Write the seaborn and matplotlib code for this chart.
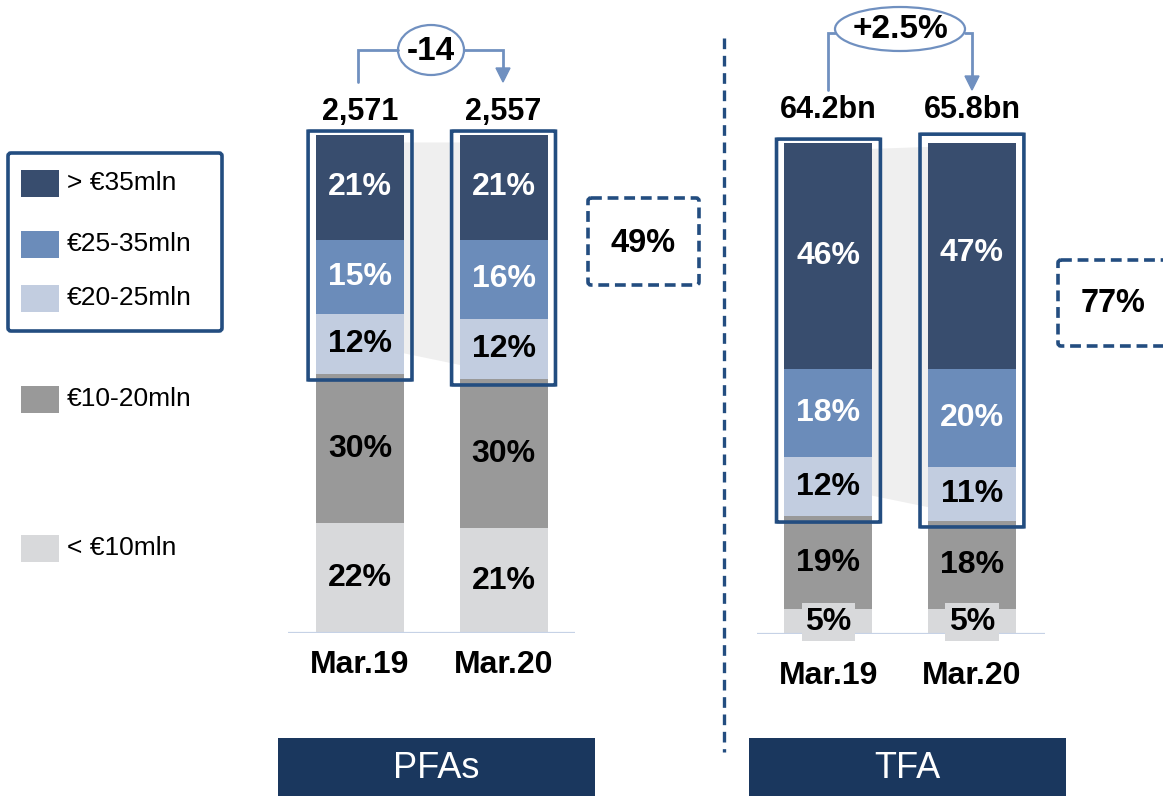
import numpy as np
import pandas as pd
import seaborn as sns
import matplotlib.pyplot as plt
from matplotlib.patches import FancyBboxPatch, Rectangle, Ellipse, Polygon

# ---- data ----
periods = ["Mar.19", "Mar.20"]
bands = ["> €35mln", "€25-35mln", "€20-25mln", "€10-20mln", "< €10mln"]
band_colors = ["#384d6e", "#6b8cba", "#c2cde0", "#999999", "#d8d9db"]
label_colors = ["white", "white", "black", "black", "black"]

# shares per band (top band first), one list per period
pfa_shares = {"Mar.19": [21, 15, 12, 30, 22], "Mar.20": [21, 16, 12, 30, 21]}
tfa_shares = {"Mar.19": [46, 18, 12, 19, 5], "Mar.20": [47, 20, 11, 18, 5]}

pfa_totals = ["2,571", "2,557"]
tfa_totals = ["64.2bn", "65.8bn"]
pfa_change = "-14"
tfa_change = "+2.5%"
pfa_large_share = "49%"
tfa_large_share = "77%"
panel_titles = ["PFAs", "TFA"]

NAVY = "#17375e"
OUTLINE = "#234d80"
ARROW = "#7090c0"
BAR_W = 0.613

sns.set_theme(style="white")
plt.rcParams["font.family"] = ["Liberation Sans", "DejaVu Sans"]

W, H = 1163, 796
fig = plt.figure(figsize=(W / 100, H / 100), dpi=100)

# overlay in pixel coordinates for the decorations
ov = fig.add_axes([0, 0, 1, 1], zorder=0)
ov.set_xlim(0, W)
ov.set_ylim(H, 0)
ov.axis("off")


def px_axes(x0, x1, ybase, ytop):
    ax = fig.add_axes([x0 / W, (H - ybase) / H, (x1 - x0) / W, (ybase - ytop) / H], zorder=2)
    ax.patch.set_alpha(0)
    return ax


def draw_panel(ax, shares, totals, xlim, header_y, cat_y, small_bbox):
    df = pd.DataFrame(shares, index=bands)
    cum = df.iloc[::-1].cumsum().iloc[::-1]  # top of each segment; first row = total

    # connector shading between the highlighted blocks
    top0, top1 = cum.iloc[0, 0], cum.iloc[0, 1]
    b0, b1 = cum.iloc[3, 0], cum.iloc[3, 1]
    ax.add_patch(Polygon([(0, top0 - 1.5), (1, top1 - 1.5), (1, b1 + 1), (0, b0 + 6)],
                         closed=True, facecolor="#efefef", edgecolor="none", zorder=0))

    # overlapping cumulative bars produce the stack
    for i, band in enumerate(bands):
        sns.barplot(x=periods, y=cum.loc[band].values, color=band_colors[i],
                    width=BAR_W, saturation=1, linewidth=0, errorbar=None, ax=ax, zorder=1)

    # segment labels
    for j, p in enumerate(periods):
        for i, band in enumerate(bands):
            v = df.loc[band, p]
            mid = cum.loc[band, p] - v / 2
            kw = {}
            if v < 8 and small_bbox:
                kw["bbox"] = dict(boxstyle="square,pad=0.12", fc="#d8d9db", ec="none")
            ax.text(j, mid, f"{v}%", ha="center", va="center", fontsize=23,
                    fontweight="bold", color=label_colors[i], zorder=4, **kw)
        # outline around the three largest bands
        lo = cum.iloc[3, j] - 1.2
        hi = cum.iloc[0, j] + 0.8
        ax.add_patch(FancyBboxPatch((j - 0.362, lo), 0.724, hi - lo,
                                    boxstyle="round,pad=0,rounding_size=0.02",
                                    fill=False, ec=OUTLINE, lw=2.6, zorder=5, clip_on=False))
        ax.text(j, header_y, totals[j], ha="center", va="center", fontsize=22,
                fontweight="bold", color="black", clip_on=False)
        ax.text(j, cat_y, p, ha="center", va="center", fontsize=23,
                fontweight="bold", color="black", clip_on=False)

    ax.axhline(0, color="#c6d2e6", lw=1.6, zorder=3)
    ax.set_xlim(*xlim)
    ax.set_ylim(0, 100)
    ax.axis("off")


# PFAs panel
ax_l = px_axes(288, 575, 633, 135)
draw_panel(ax_l, pfa_shares, pfa_totals, (-0.502, 1.498), 104.6, -6.4, False)

# TFA panel
ax_r = px_axes(757, 1045, 634, 143)
draw_panel(ax_r, tfa_shares, tfa_totals, (-0.498, 1.509), 106.8, -8.6, True)

# ---- change arrows ----
def change_arrow(x0, x1, y_start, y_line, y_end, ell_c, ell_w, ell_h, text):
    ov.plot([x0, x0, ell_c[0] - ell_w / 2], [y_start, y_line, y_line], color=ARROW, lw=2,
            solid_joinstyle="miter")
    ov.plot([ell_c[0] + ell_w / 2, x1, x1], [y_line, y_line, y_end - 12], color=ARROW, lw=2,
            solid_joinstyle="miter")
    ov.add_patch(Polygon([(x1 - 7, y_end - 14), (x1 + 7, y_end - 14), (x1, y_end)],
                         closed=True, fc=ARROW, ec=ARROW))
    ov.add_patch(Ellipse(ell_c, ell_w, ell_h, fc="white", ec=ARROW, lw=1.6))
    ov.text(ell_c[0], ell_c[1] + 1, text, ha="center", va="center", fontsize=24,
            fontweight="bold", color="black")


change_arrow(358, 503, 82, 50, 82, (431, 50), 66, 50, pfa_change)
change_arrow(828, 972, 90, 33, 90, (900, 29), 130, 44, tfa_change)

# ---- dashed share boxes ----
for (x0, y0, x1, y1), (tx, ty), txt in [((588, 198, 699, 285), (643, 244), pfa_large_share),
                                         ((1058, 260, 1172, 346), (1113, 304), tfa_large_share)]:
    ov.add_patch(FancyBboxPatch((x0, y0), x1 - x0, y1 - y0,
                                boxstyle="round,pad=0,rounding_size=3",
                                fill=False, ec=OUTLINE, lw=2.6, ls=(0, (3, 1.6))))
    ov.text(tx, ty, txt, ha="center", va="center", fontsize=23.5,
            fontweight="bold", color="black")

# ---- panel divider ----
ov.plot([724, 724], [38, 752], color=OUTLINE, lw=2.4, ls=(0, (3.2, 2)))

# ---- legend ----
ov.add_patch(FancyBboxPatch((8, 153), 214, 178, boxstyle="round,pad=0,rounding_size=3",
                            fill=False, ec=OUTLINE, lw=2.6))
for band, col, yc in zip(bands, band_colors, [183, 244, 298, 399, 548]):
    ov.add_patch(Rectangle((21, yc - 13.5), 38, 27, fc=col, ec="none"))
    ov.text(67, yc, band, ha="left", va="center", fontsize=19, color="black")

# ---- panel titles ----
for (x0, x1), title in zip([(278, 595), (749, 1066)], panel_titles):
    ov.add_patch(Rectangle((x0, 738), x1 - x0, 60, fc="#1a375e", ec="none"))
    ov.text((x0 + x1) / 2, 768, title, ha="center", va="center", fontsize=26, color="white")

fig.savefig("out.png", dpi=100)
